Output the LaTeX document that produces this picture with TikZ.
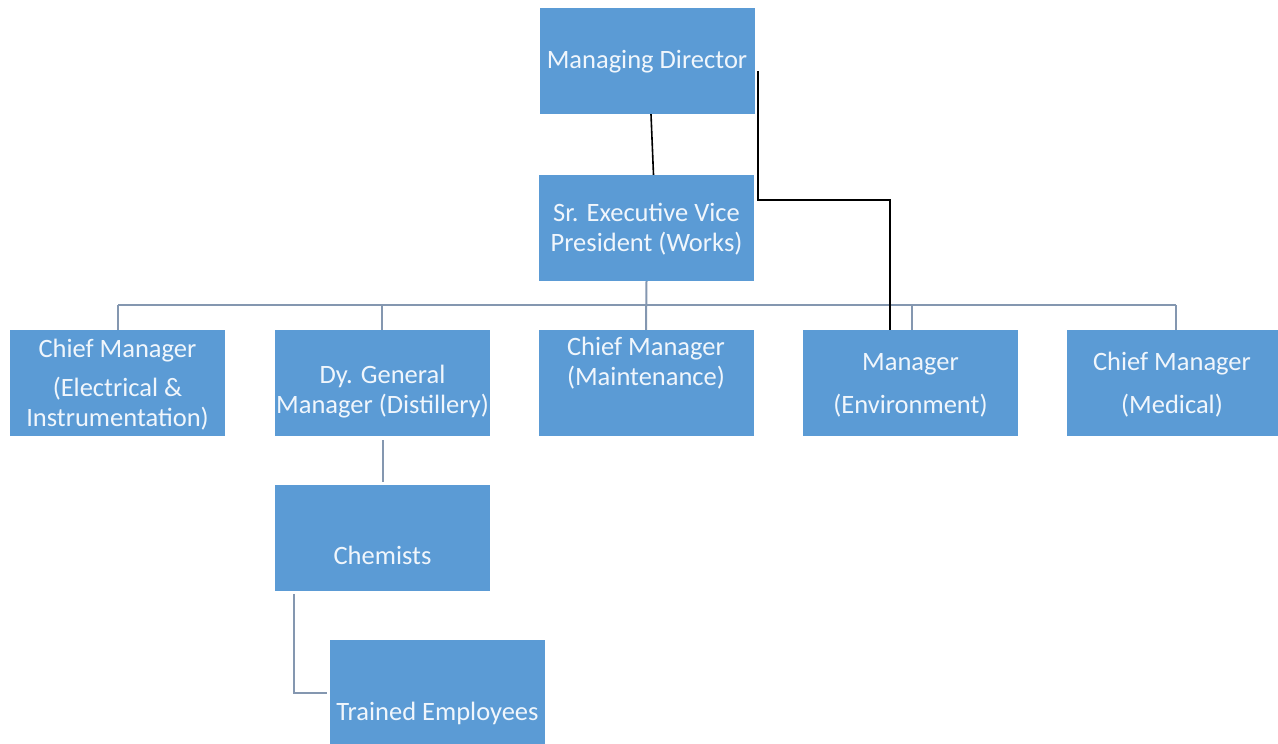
\documentclass[tikz,border=0pt]{standalone}
\usepackage{fontspec}
\setmainfont{Carlito}
\definecolor{boxblue}{RGB}{91,155,213}
\definecolor{linegray}{RGB}{132,151,176}
\definecolor{txtwhite}{RGB}{240,246,252}
\begin{document}
\begin{tikzpicture}[x=1pt,y=-1pt,
  box/.style={rectangle,fill=boxblue,draw=none,inner sep=0pt,minimum width=215pt,minimum height=106pt},
  lbl/.style={anchor=base,align=center,text=txtwhite,inner sep=0pt,font=\fontsize{26.5}{30}\selectfont},
  blk/.style={draw=black,line width=1.6pt},
  gr/.style={draw=linegray,line width=2pt}]
\useasboundingbox (0,0) rectangle (1278,744);
% boxes
\node[box] (md) at (647,61) {};
\node[box] (sevp) at (646.5,228) {};
\node[box] (cei) at (117.5,383) {};
\node[box] (dgm) at (382.5,383) {};
\node[box] (cmm) at (646,383) {};
\node[box] (env) at (910.5,383) {};
\node[box] (cmed) at (1174.5,383) {};
\node[box] (chem) at (382.5,538) {};
\node[box] (trained) at (437.5,693) {};
% labels (anchor base = baseline of the last line)
\node[lbl] (mdT) at (647,68) {Managing Director};
\node[lbl] (sevpT) at (646.5,251) {Sr. Executive Vice\\President (Works)};
\node[lbl] (ceiT) at (117.5,426) {Chief Manager\\[9pt](Electrical \&\\Instrumentation)};
\node[lbl] (dgmT) at (382.5,413) {Dy. General\\Manager (Distillery)};
\node[lbl] (cmmT) at (646,385) {Chief Manager\\(Maintenance)};
\node[lbl] (envT) at (910.5,413) {Manager\\[13pt](Environment)};
\node[lbl] (cmedT) at (1172,413) {Chief Manager\\[13pt](Medical)};
\node[lbl] (chemT) at (382.5,564) {Chemists};
\node[lbl] (trainedT) at (437.5,720) {Trained Employees};
% gray tree connectors
\coordinate (busL) at (118,305);
\coordinate (busR) at (1176,305);
\draw[gr] (busL) -- (busR);
\draw[gr] (sevp.south) -- (cmm.north);
\draw[gr] (cei.north -| busL) -- (busL);
\draw[gr] ([xshift=-0.5pt]dgm.north) -- ([xshift=-0.5pt]dgm.north |- busL);
\draw[gr] ([xshift=1.5pt]env.north) -- ([xshift=1.5pt]env.north |- busL);
\draw[gr] (cmed.north -| busR) -- (busR);
\draw[gr] ([yshift=-4pt]dgm.south) -- ([yshift=3pt]chem.north);
\draw[gr] ([shift={(19.5pt,-3pt)}]chem.south west) |- ([xshift=-3pt]trained.west);
% black connectors
\draw[blk] ([xshift=4pt]md.south) -- ([xshift=7pt]sevp.north);
\draw[blk] ([shift={(3pt,-10pt)}]md.east) |- ([xshift=-20.5pt]env.north |- 0,200) -- ([xshift=-20.5pt]env.north);
\end{tikzpicture}
\end{document}
